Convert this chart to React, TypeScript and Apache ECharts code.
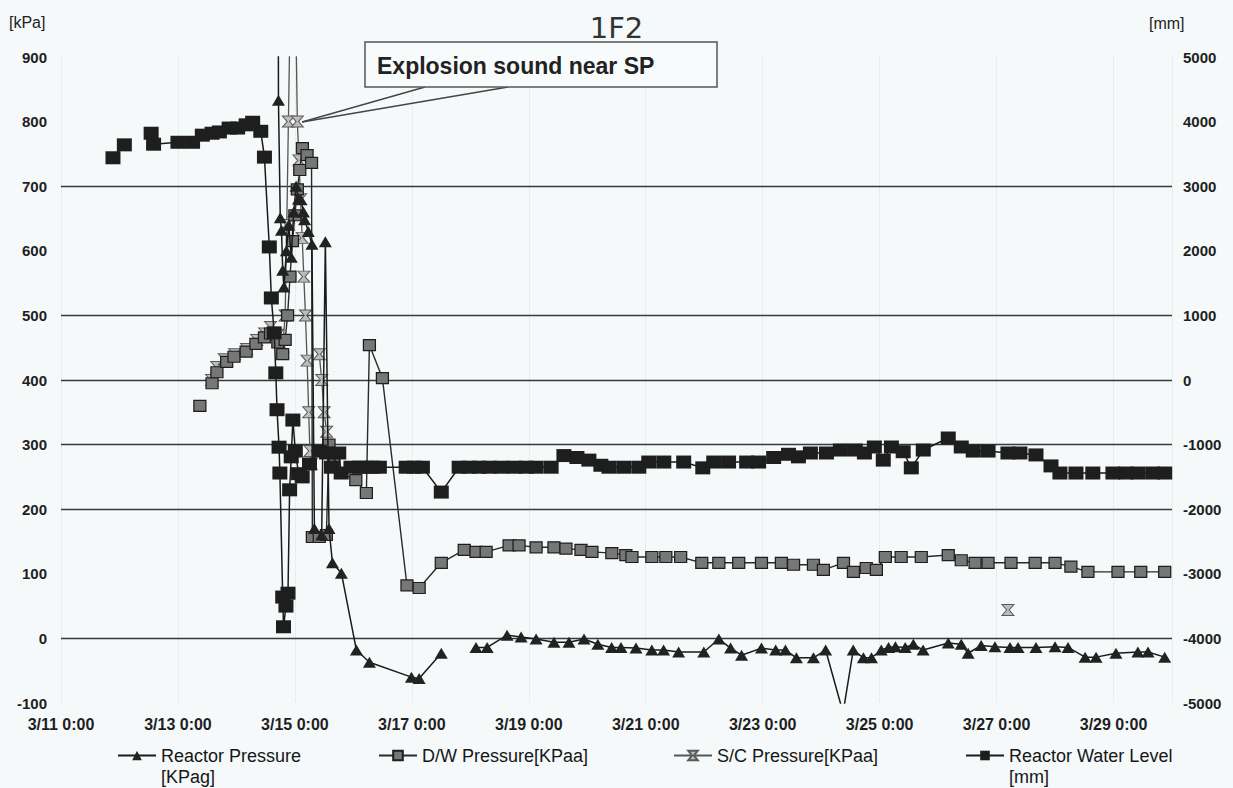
import React, { useEffect, useRef } from "react";
import * as echarts from "echarts";

type Pt = [string, number] | null;

// x-axis: hours since 3/11 0:00, ticks every 2 days
const xTickDays = [11, 13, 15, 17, 19, 21, 23, 25, 27, 29];
const gridLinesKPa = [0, 200, 300, 400, 500, 700];

const reactorPressure: Pt[] = [
  ["3/14 17:00", 1500], ["3/14 17:15", 833], ["3/14 18:00", 651], ["3/14 18:30", 632],
  ["3/14 19:00", 570], ["3/14 19:30", 544], ["3/14 20:30", 600], ["3/14 21:30", 640],
  ["3/14 22:30", 590], ["3/14 23:30", 660], ["3/15 00:30", 700], ["3/15 01:30", 680],
  ["3/15 02:30", 679], ["3/15 03:30", 660], ["3/15 04:00", 648], ["3/15 05:30", 630],
  ["3/15 07:00", 610], ["3/15 08:00", 170], ["3/15 11:00", 160], ["3/15 12:30", 614],
  ["3/15 14:00", 170], ["3/15 15:25", 117], ["3/15 19:05", 101], ["3/16 01:15", -18],
  ["3/16 06:35", -37], ["3/16 23:50", -60], ["3/17 03:00", -62], ["3/17 12:05", -23],
  null,
  ["3/18 02:20", -14], ["3/18 06:55", -14], ["3/18 15:05", 5], ["3/18 20:50", 2],
  ["3/19 03:00", -1], ["3/19 10:20", -6], ["3/19 16:30", -6], ["3/19 22:40", -1],
  ["3/20 04:20", -9], ["3/20 10:00", -14], ["3/20 13:50", -14], ["3/20 20:00", -15],
  ["3/21 02:30", -18], ["3/21 07:20", -18], ["3/21 13:30", -21], ["3/21 23:50", -21],
  ["3/22 06:00", -1], ["3/22 10:50", -15], ["3/22 15:20", -26], ["3/22 23:30", -15],
  ["3/23 05:20", -18], ["3/23 09:20", -18], ["3/23 13:50", -30], ["3/23 20:50", -30],
  ["3/24 01:50", -18], ["3/24 09:00", -115], ["3/24 13:10", -18], ["3/24 17:20", -30],
  ["3/24 20:40", -30], ["3/25 00:40", -18], ["3/25 03:40", -14], ["3/25 06:30", -13],
  ["3/25 10:30", -14], ["3/25 13:50", -9], ["3/25 17:50", -18], ["3/26 04:10", -7],
  ["3/26 09:30", -9], ["3/26 12:20", -23], ["3/26 17:40", -11], ["3/26 23:20", -13],
  ["3/27 05:30", -14], ["3/27 08:50", -14], ["3/27 16:10", -14], ["3/28 00:00", -13],
  ["3/28 05:20", -14], ["3/28 12:20", -29], ["3/28 16:50", -29], ["3/29 01:00", -23],
  ["3/29 10:00", -21], ["3/29 14:10", -21], ["3/29 21:00", -29],
];

const dwPressure: Pt[] = [
  ["3/13 09:00", 360],
  null,
  ["3/13 14:00", 395], ["3/13 16:00", 412], ["3/13 20:00", 428], ["3/13 23:00", 436],
  ["3/14 04:00", 444], ["3/14 08:00", 456], ["3/14 11:30", 466], ["3/14 14:00", 472],
  ["3/14 17:00", 458], ["3/14 19:00", 440], ["3/14 20:00", 462], ["3/14 21:00", 500],
  ["3/14 22:00", 560], ["3/14 23:00", 615], ["3/15 00:00", 655], ["3/15 01:00", 695],
  ["3/15 02:00", 725], ["3/15 03:05", 759], ["3/15 05:00", 748], ["3/15 06:50", 736],
  ["3/15 07:10", 157], ["3/15 10:00", 157], ["3/15 12:55", 160], ["3/15 14:00", 300],
  ["3/15 16:00", 275], ["3/15 19:00", 256], ["3/16 01:00", 245], ["3/16 05:20", 225],
  ["3/16 06:35", 454], ["3/16 11:55", 403], ["3/16 22:00", 82], ["3/17 03:00", 78],
  ["3/17 12:05", 117], ["3/17 21:30", 137], ["3/18 02:20", 134], ["3/18 06:30", 134],
  ["3/18 15:55", 144], ["3/18 20:00", 144], ["3/19 03:00", 141], ["3/19 10:20", 141],
  ["3/19 15:15", 139], ["3/19 21:25", 137], ["3/20 01:55", 134], ["3/20 10:05", 132],
  ["3/20 15:50", 129], ["3/20 18:20", 126], ["3/21 02:30", 126], ["3/21 08:15", 126],
  ["3/21 14:20", 126], ["3/21 23:00", 117], ["3/22 06:00", 117], ["3/22 14:10", 117],
  ["3/22 23:30", 117], ["3/23 07:40", 117], ["3/23 12:40", 114], ["3/23 20:50", 114],
  ["3/24 00:55", 106], ["3/24 09:10", 117], ["3/24 13:15", 103], ["3/24 18:30", 109],
  ["3/24 22:40", 106], ["3/25 02:20", 126], ["3/25 08:50", 126], ["3/25 17:05", 126],
  ["3/26 04:10", 129], ["3/26 09:30", 121], ["3/26 15:10", 117], ["3/26 20:30", 117],
  ["3/27 05:55", 117], ["3/27 15:50", 117], ["3/28 00:00", 117], ["3/28 06:30", 111],
  ["3/28 13:30", 103], ["3/29 01:50", 103], ["3/29 11:10", 103], ["3/29 21:00", 103],
];

const scPressure: Pt[] = [
  ["3/13 13:50", 400], ["3/13 15:55", 420], ["3/13 19:00", 432], ["3/13 23:15", 440],
  ["3/14 04:10", 448], ["3/14 08:20", 462], ["3/14 11:35", 472], ["3/14 14:00", 482],
  ["3/14 17:00", 470], ["3/14 19:00", 452], ["3/14 20:00", 500], ["3/14 20:40", 640],
  ["3/14 21:20", 800], ["3/14 22:00", 960], ["3/14 23:30", 1000], ["3/15 00:30", 930],
  ["3/15 01:00", 800], ["3/15 01:40", 740], ["3/15 02:20", 680], ["3/15 03:00", 620],
  ["3/15 03:40", 560], ["3/15 04:20", 500], ["3/15 05:00", 430], ["3/15 05:40", 350],
  ["3/15 06:10", 290], ["3/15 06:40", 270],
  null,
  ["3/15 10:00", 440], ["3/15 11:00", 400], ["3/15 12:00", 350], ["3/15 13:00", 320],
  null,
  ["3/27 04:40", 44],
];

const waterLevel: Pt[] = [
  ["3/11 21:20", 3440], ["3/12 02:00", 3640],
  null,
  ["3/12 13:00", 3820], ["3/12 14:00", 3650], ["3/13 00:00", 3680], ["3/13 06:00", 3680],
  ["3/13 10:00", 3790], ["3/13 14:00", 3820], ["3/13 17:00", 3840], ["3/13 21:00", 3900],
  ["3/14 00:30", 3900], ["3/14 04:00", 3950], ["3/14 06:40", 3990], ["3/14 10:00", 3850],
  ["3/14 11:30", 3450], ["3/14 13:30", 2060], ["3/14 14:20", 1270], ["3/14 15:30", 730],
  ["3/14 16:10", 110], ["3/14 16:40", -460], ["3/14 17:30", -1040], ["3/14 17:50", -1440],
  ["3/14 19:00", -3360], ["3/14 19:20", -3820], ["3/14 20:20", -3500], ["3/14 21:10", -3300],
  ["3/14 21:50", -1700], ["3/14 22:30", -1190], ["3/14 23:10", -620], ["3/15 00:10", -1100],
  ["3/15 01:30", -1450], ["3/15 03:00", -1500], ["3/15 06:00", -1300], ["3/15 10:00", -1100],
  ["3/15 13:00", -1130], ["3/15 15:00", -1350], ["3/15 18:00", -1130], ["3/15 19:00", -1440],
  ["3/15 23:00", -1350], ["3/16 02:30", -1350], ["3/16 05:00", -1350], ["3/16 08:00", -1350],
  ["3/16 10:40", -1350], ["3/16 21:40", -1350], ["3/17 01:00", -1350], ["3/17 04:20", -1350],
  ["3/17 12:05", -1735], ["3/17 19:25", -1350], ["3/17 23:30", -1350], ["3/18 03:40", -1350],
  ["3/18 07:45", -1350], ["3/18 12:40", -1350], ["3/18 18:00", -1350], ["3/18 22:55", -1350],
  ["3/19 03:00", -1350], ["3/19 09:10", -1350], ["3/19 14:25", -1170], ["3/19 19:45", -1200],
  ["3/20 00:40", -1240], ["3/20 05:35", -1320], ["3/20 08:55", -1350], ["3/20 15:00", -1350],
  ["3/20 21:10", -1350], ["3/21 01:15", -1270], ["3/21 07:25", -1270], ["3/21 15:35", -1270],
  ["3/21 23:25", -1360], ["3/22 03:55", -1270], ["3/22 10:00", -1270], ["3/22 17:25", -1270],
  ["3/22 22:20", -1270], ["3/23 04:30", -1200], ["3/23 10:35", -1150], ["3/23 14:40", -1190],
  ["3/23 19:35", -1130], ["3/24 02:10", -1130], ["3/24 07:55", -1084], ["3/24 14:00", -1084],
  ["3/24 17:45", -1130], ["3/24 21:50", -1037], ["3/25 01:30", -1240], ["3/25 04:50", -1037],
  ["3/25 09:40", -1110], ["3/25 13:00", -1360], ["3/25 17:55", -1084], ["3/26 04:10", -898],
  ["3/26 09:30", -1037], ["3/26 14:25", -1100], ["3/26 20:30", -1100], ["3/27 04:40", -1130],
  ["3/27 09:35", -1130], ["3/27 16:10", -1160], ["3/27 22:20", -1330], ["3/28 02:00", -1440],
  ["3/28 08:35", -1440], ["3/28 15:30", -1440], ["3/28 23:45", -1440], ["3/29 05:00", -1440],
  ["3/29 10:00", -1440], ["3/29 16:05", -1440], ["3/29 21:00", -1440],
];

const legendLabels: Record<string, string[]> = {
  "Reactor Pressure": ["Reactor Pressure", "[KPag]"],
  "D/W Pressure": ["D/W Pressure[KPaa]"],
  "S/C Pressure": ["S/C Pressure[KPaa]"],
  "Reactor Water Level": ["Reactor Water Level", "[mm]"],
};

const FONT = "'Liberation Sans', Arial, sans-serif";

const toHours = (s: string) => {
  const [d, t] = s.split(" ");
  const day = Number(d.split("/")[1]);
  const [hh, mm] = t.split(":").map(Number);
  return (day - 11) * 24 + hh + mm / 60;
};
const toData = (arr: Pt[]) => arr.map((p) => (p ? [toHours(p[0]), p[1]] : ["-", "-"]));

export default function App() {
  const ref = useRef<HTMLDivElement>(null);
  useEffect(() => {
    document.body.style.margin = "0";
    if (!ref.current) return;
    const chart = echarts.init(ref.current, undefined, { renderer: "svg" });
    const legendLeft: Record<string, number> = {
      "Reactor Pressure": 117,
      "D/W Pressure": 378,
      "S/C Pressure": 673,
      "Reactor Water Level": 965,
    };
    const legends = Object.keys(legendLabels).map((name) => ({
      data: [name],
      left: legendLeft[name],
      top: 724,
      padding: 0,
      itemWidth: 38,
      itemHeight: 12,
      selectedMode: false,
      textStyle: { fontSize: 18, color: "#161616", lineHeight: 21, fontFamily: FONT },
      formatter: (n: string) => {
        const l = legendLabels[n];
        return " \n" + l[0] + "\n" + (l[1] || " ");
      },
    }));
    const axisFont = { fontSize: 15, fontWeight: "bold", color: "#1e1e1e", fontFamily: FONT };
    const option: any = {
      animation: false,
      backgroundColor: "#f5f9fa",
      title: {
        text: "1F2",
        left: "center",
        top: 8,
        textStyle: { fontSize: 29, fontWeight: "normal", color: "#333", fontFamily: "'DejaVu Sans', sans-serif" },
      },
      legend: legends,
      grid: { left: 61, right: 61, top: 57, bottom: 85 },
      xAxis: {
        type: "value",
        min: 0,
        max: 456,
        interval: 48,
        axisLine: { show: false },
        axisTick: { show: false },
        splitLine: { show: true, lineStyle: { color: "#dde1e3", type: "dotted", width: 1 } },
        axisLabel: {
          ...axisFont,
          fontSize: 16,
          margin: 13,
          showMaxLabel: false,
          formatter: (v: number) => {
            const d = 11 + v / 24;
            return xTickDays.includes(d) ? `3/${d} 0:00` : "";
          },
        },
      },
      yAxis: [
        {
          type: "value",
          min: -100,
          max: 900,
          interval: 100,
          axisLine: { show: false },
          axisTick: { show: false },
          splitLine: { show: false },
          axisLabel: { ...axisFont, margin: 14, formatter: (v: number) => String(v) },
        },
        {
          type: "value",
          min: -5000,
          max: 5000,
          interval: 1000,
          position: "right",
          axisLine: { show: false },
          axisTick: { show: false },
          splitLine: { show: false },
          axisLabel: { ...axisFont, margin: 11, formatter: (v: number) => String(v) },
        },
      ],
      graphic: [
        { type: "text", x: 9, y: 22, style: { text: "[kPa]", fontSize: 16, fill: "#222", fontFamily: FONT, verticalAlign: "middle" } },
        { type: "text", x: 1149, y: 23, style: { text: "[mm]", fontSize: 16, fill: "#222", fontFamily: FONT, verticalAlign: "middle" } },
        { type: "line", shape: { x1: 425, y1: 87, x2: 302, y2: 122 }, style: { stroke: "#444", lineWidth: 1.3 }, z: 20 },
        { type: "line", shape: { x1: 508, y1: 87, x2: 302, y2: 122 }, style: { stroke: "#444", lineWidth: 1.3 }, z: 20 },
        { type: "rect", shape: { x: 365, y: 42, width: 352, height: 45 }, style: { fill: "#f8fbfb", stroke: "#555", lineWidth: 1.5 }, z: 20 },
        {
          type: "text",
          x: 377,
          y: 66,
          z: 21,
          style: { text: "Explosion sound near SP", fontSize: 23, fontWeight: "bold", fill: "#222", fontFamily: FONT, verticalAlign: "middle" },
        },
      ],
      series: [
        {
          name: "S/C Pressure",
          type: "line",
          yAxisIndex: 0,
          data: toData(scPressure),
          symbol: "path://M0,0L10,0L6,5L10,10L0,10L4,5Z",
          symbolSize: [12, 11],
          lineStyle: { color: "#555", width: 1.3 },
          itemStyle: { color: "#bdbdbd", borderColor: "#5a5a5a", borderWidth: 1 },
          z: 2,
        },
        {
          name: "D/W Pressure",
          type: "line",
          yAxisIndex: 0,
          data: toData(dwPressure),
          symbol: "rect",
          symbolSize: [12, 11],
          lineStyle: { color: "#2a2a2a", width: 1.4 },
          itemStyle: { color: "#777", borderColor: "#1e1e1e", borderWidth: 1.2 },
          z: 3,
        },
        {
          name: "Reactor Pressure",
          type: "line",
          yAxisIndex: 0,
          data: toData(reactorPressure),
          symbol: "triangle",
          symbolSize: [13, 11],
          lineStyle: { color: "#1a1a1a", width: 1.5 },
          itemStyle: { color: "#222" },
          z: 4,
          markLine: {
            silent: true,
            symbol: ["none", "none"],
            label: { show: false },
            lineStyle: { color: "#3a3a3a", width: 1.3, type: "solid" },
            data: gridLinesKPa.map((v) => ({ yAxis: v })),
            z: 1,
          },
        },
        {
          name: "Reactor Water Level",
          type: "line",
          yAxisIndex: 1,
          data: toData(waterLevel),
          symbol: "rect",
          symbolSize: [15, 13],
          lineStyle: { color: "#1a1a1a", width: 1.5 },
          itemStyle: { color: "#1e1e1e" },
          z: 5,
        },
      ],
    };
    chart.setOption(option);
    return () => chart.dispose();
  }, []);
  return <div ref={ref} style={{ width: 1233, height: 788 }} />;
}
